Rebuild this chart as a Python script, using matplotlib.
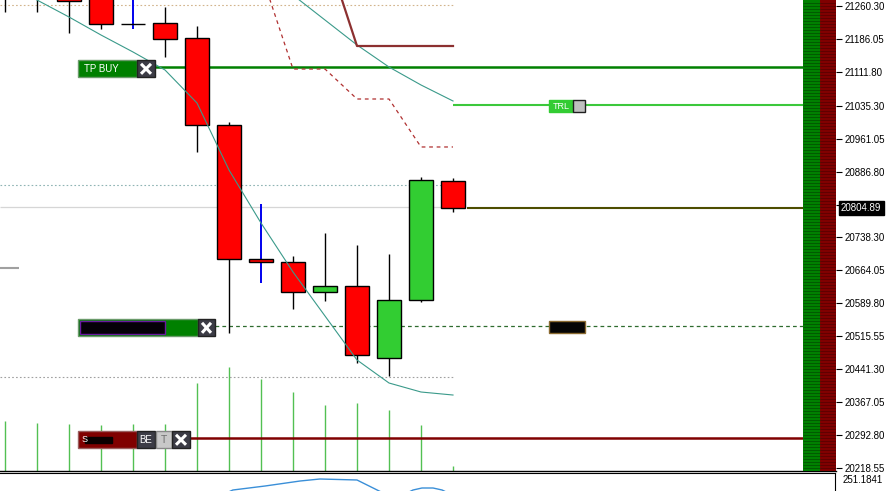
import numpy as np
import matplotlib
matplotlib.use("Agg")
from matplotlib import pyplot as plt
from matplotlib.patches import Rectangle
from matplotlib.transforms import blended_transform_factory

plt.rcParams['font.family'] = ['Liberation Sans', 'DejaVu Sans']

# candles (oldest first)
opens  = [21305.0, 21300.0, 21290.0, 21280.0, 21219.7, 21222.0, 21188.1, 20992.0,
          20689.8, 20683.0, 20615.4, 20628.9, 20466.6, 20597.4, 20865.7]
highs  = [21320.0, 21315.0, 21300.0, 21290.0, 21290.0, 21258.0, 21215.2, 20998.7,
          20813.8, 20696.6, 20748.4, 20721.4, 20701.1, 20874.7, 20872.5]
lows   = [21246.8, 21246.8, 21199.4, 21208.4, 21208.4, 21145.3, 20931.1, 20522.9,
          20635.7, 20577.1, 20595.1, 20455.3, 20426.0, 20592.8, 20795.8]
closes = [21290.0, 21285.0, 21271.6, 21219.7, 21219.7, 21185.9, 20992.0, 20689.8,
          20683.0, 20615.4, 20628.9, 20473.3, 20597.4, 20867.9, 20804.89]
blue_wicks = [4, 8]
volumes = [1250, 1200, 1175, 1150, 1175, 1175, 2200, 2600, 2300, 1975, 1650, 1700, 1525, 1150, 125]

# indicators
ma_fast = [21312.0, 21273.8, 21235.5, 21194.9, 21156.6, 21116.0, 21041.6, 20890.5,
           20771.0, 20660.5, 20561.3, 20462.1, 20410.2, 20389.9, 20383.1]
ma_slow_idx = [8, 9, 10, 11, 12, 13, 14]
ma_slow = [21341.0, 21285.0, 21228.7, 21172.4, 21122.7, 21082.2, 21046.1]
trend_idx = [10, 11, 12, 13, 14]
trend = [21391.0, 21170.1, 21170.1, 21170.1, 21170.1]
trail_idx = [8, 9, 10, 11, 12, 13, 14]
trail = [21334.7, 21118.2, 21118.2, 21050.6, 21050.6, 20942.4, 20942.4]

# horizontal levels
tp_buy = 21122.7
trl_level = 21038.0
entry = 20538.7
stop = 20286.2
bid = 20804.89
lvl_tan = 21262.6
lvl_bluegray = 20856.7
lvl_gray = 20423.7
lvl_light = 20806.0
lvl_short = 20669.5

price_ticks = [21260.30, 21186.05, 21111.80, 21035.30, 20961.05, 20886.80, 20812.55,
               20738.30, 20664.05, 20589.80, 20515.55, 20441.30, 20367.05, 20292.80, 20218.55]

# lower window oscillator
osc_x = [6.85, 7.12, 8.13, 9.22, 9.84, 11.0, 11.63, 11.88, 12.5, 12.75, 13.03, 13.375, 13.66, 13.91]
osc_vals = [190, 203.3, 216.7, 233.3, 240, 236.7, 203.3, 190, 190, 203.3, 210, 210, 203.3, 190]
osc_label = "251.1841"

# ---- layout (pixels) ----
W, H = 889, 491
PLOT_R = 836
PX = 2.2549                       # price per pixel
y_top = 21260.30 + 6 * PX
y_bot = 21260.30 - 465 * PX


def px(xp):
    return (xp - 5) / 32.0


fig = plt.figure(figsize=(W / 100, H / 100), dpi=100)
fig.patch.set_facecolor('white')
rect = [0, 20 / H, PLOT_R / W, 471 / H]

ax_vol = fig.add_axes(rect, zorder=0)
ax = fig.add_axes(rect, zorder=1)
ax.patch.set_alpha(0)

for a in (ax, ax_vol):
    a.set_xlim(px(0), px(PLOT_R))

# volume
ax_vol.vlines(range(len(volumes)), 0, volumes, color='#52c052', lw=1)
ax_vol.set_ylim(0, 471 * 25)
ax_vol.axis('off')

ax.set_ylim(y_bot, y_top)

# background levels
ax.hlines(lvl_tan, px(0), px(455), color='#d2b48c', lw=0.8, linestyles=(0, (1.5, 2)), zorder=1)
ax.hlines(lvl_bluegray, px(0), px(455), color='#8fb4b4', lw=0.8, linestyles=(0, (1.5, 2)), zorder=1)
ax.hlines(lvl_gray, px(0), px(455), color='#a0a0a0', lw=0.8, linestyles=(0, (1.5, 2)), zorder=1)
ax.hlines(lvl_light, px(0), px(455), color='#d6d6d6', lw=0.9, zorder=1)
ax.hlines(lvl_short, px(0), px(19), color='#a0a0a0', lw=1.5, zorder=1)

# trade levels
ax.hlines(tp_buy, px(155), px(803), color='#008000', lw=1.8, zorder=2)
ax.hlines(trl_level, px(453), px(803), color='#3cc83c', lw=1.5, zorder=2)
ax.hlines(bid, px(467), px(803), color='#4d4d00', lw=1.5, zorder=2)
ax.hlines(entry, px(215), px(803), color='#2e6b2e', lw=0.9, linestyles=(0, (3, 2.5)), zorder=2)
ax.hlines(stop, px(190), px(803), color='#800000', lw=1.8, zorder=2)

# candles
for i in range(len(opens)):
    o, h, l, c = opens[i], highs[i], lows[i], closes[i]
    wc = '#0000ee' if i in blue_wicks else 'black'
    ax.vlines(i, l, h, color=wc, lw=1.4 if i in blue_wicks else 1, zorder=3)
    fc = '#32cd32' if c > o else '#ff0000'
    ax.add_patch(Rectangle((i - 0.37, min(o, c)), 0.74, abs(c - o), fc=fc, ec='black', lw=1, zorder=3.5))

# moving averages and stops
ax.plot(range(len(ma_fast)), ma_fast, color='#3a9a8a', lw=0.8, zorder=4)
ax.plot(ma_slow_idx, ma_slow, color='#3a9a8a', lw=0.8, zorder=4)
ax.plot(trend_idx, trend, color='#8c3030', lw=1.6, zorder=4)
ax.plot(trail_idx, trail, color='#b03030', lw=0.9, ls=(0, (3, 3)), zorder=4)


# buttons
def box(x0, x1, yc, hpx, fc, ec, z=6):
    ax.add_patch(Rectangle((px(x0), yc - hpx / 2 * PX), px(x1) - px(x0), hpx * PX,
                           fc=fc, ec=ec, lw=1, zorder=z))


def cross(x0, x1, yc):
    box(x0, x1, yc, 17, '#3c3c46', '#222222')
    ax.plot([px(x0 + 4), px(x1 - 4)], [yc - 5 * PX, yc + 5 * PX], color='white', lw=2.2, zorder=7,
            solid_capstyle='butt')
    ax.plot([px(x0 + 4), px(x1 - 4)], [yc + 5 * PX, yc - 5 * PX], color='white', lw=2.2, zorder=7,
            solid_capstyle='butt')


off = 1.8 * PX
yc = tp_buy - off
box(78, 137, yc, 17, '#008000', '#6b9b6b')
ax.text(px(84), yc, 'TP BUY', color='white', fontsize=7, va='center', zorder=7)
cross(137, 155, yc)

yc = entry - off
box(78, 198, yc, 17, '#008000', '#6b9b6b')
box(80, 165, yc, 13, '#050008', '#6a1aa0', z=6.5)
cross(198, 215, yc)

yc = stop - off
box(78, 137, yc, 17, '#800000', '#9a6060')
box(85, 112, yc, 6, '#0a0000', '#0a0000', z=6.5)
ax.text(px(82), yc, 'S', color='white', fontsize=6.5, va='center', zorder=7)
box(137, 155, yc, 17, '#3c3c46', '#222222')
ax.text(px(146), yc, 'BE', color='white', fontsize=7, va='center', ha='center', zorder=7)
box(156, 172, yc, 17, '#c8c8c8', '#888888')
ax.text(px(164), yc, 'T', color='#707070', fontsize=7.5, va='center', ha='center', zorder=7)
cross(172, 190, yc)

yc = trl_level - off
box(549, 573, yc, 12, '#33cc33', '#33cc33')
ax.text(px(561), yc, 'TRL', color='white', fontsize=6.5, va='center', ha='center', zorder=7)
box(573, 585, yc, 12, '#c0c0c0', '#202020')

yc = entry - 0.5 * PX
box(549, 585, yc, 12, '#050505', '#8a6a30')

# right side stripes
ax.add_patch(Rectangle((px(803), y_bot), px(820) - px(803), y_top - y_bot, fc='#008000', lw=0, zorder=8))
ax.add_patch(Rectangle((px(820), y_bot), px(PLOT_R) - px(820), y_top - y_bot, fc='#800000', lw=0, zorder=8))
stripes = np.arange(y_bot, y_top, 3 * PX)
ax.hlines(stripes, px(803), px(820), color='#005a00', lw=0.7, zorder=8.5)
ax.hlines(stripes, px(820), px(PLOT_R), color='#600000', lw=0.7, zorder=8.5)

# axes styling
for s in ('top', 'left', 'right'):
    ax.spines[s].set_visible(False)
ax.spines['bottom'].set_linewidth(1)
ax.set_xticks([])
ax.yaxis.tick_right()
ax.set_yticks(price_ticks)
ax.set_yticklabels([f'{t:.2f}' for t in price_ticks])
ax.tick_params(axis='y', length=4, width=0.8, pad=2, labelsize=7)

tr = blended_transform_factory(ax.transAxes, ax.transData)
ax.text(1.0 + 5 / PLOT_R, bid, f'{bid:.2f}', transform=tr, color='white', fontsize=7,
        va='center', ha='left', zorder=10,
        bbox=dict(boxstyle='square,pad=0.25', fc='black', ec='black'))

# lower window
ax_osc = fig.add_axes([0, 0, 835 / W, 18 / H])
ax_osc.set_xlim(px(0), px(835))
ax_osc.set_ylim(200, 260)
ax_osc.plot(osc_x, osc_vals, color='#3a8fd8', lw=1)
ax_osc.set_xticks([])
ax_osc.set_yticks([])
for s in ('left', 'bottom'):
    ax_osc.spines[s].set_visible(False)
ax_osc.text(1.0 + 8 / 835, 0.6, osc_label, transform=ax_osc.transAxes, fontsize=7, va='center')

fig.savefig('out.png', dpi=100)
